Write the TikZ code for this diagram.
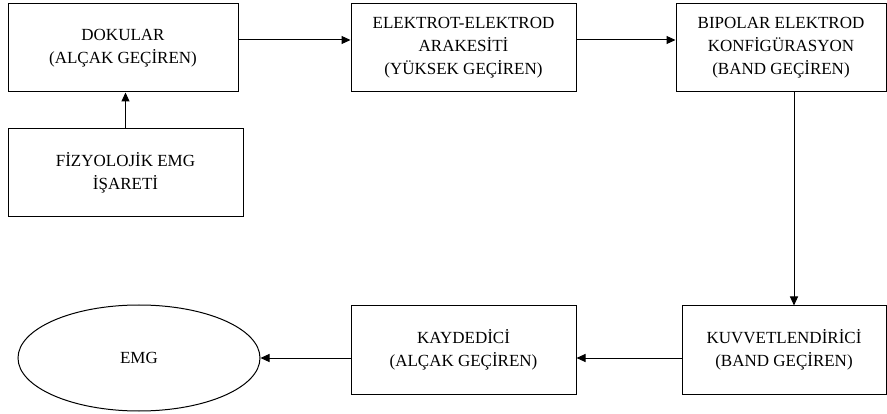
\documentclass[tikz,border=0pt]{standalone}
\usepackage{fontspec}
\setmainfont{Liberation Serif}
\usetikzlibrary{arrows.meta,positioning,shapes.geometric}

\begin{document}
\begin{tikzpicture}[
      x=1pt, y=1pt,
      block/.style={draw, line width=1pt, minimum height=88pt, align=center, inner sep=0pt, font=\fontsize{17}{23}\selectfont},
      arr/.style={-{Triangle[length=9pt, width=8pt]}, line width=1pt}
    ]
      \useasboundingbox (0,0) rectangle (887,-414);

      \node[block, minimum width=230pt] (dokular) at (123,-48) {
        DOKULAR\\
        (ALÇAK GEÇİREN)
      };

      \node[block, minimum width=235pt, below right=36pt and 0pt of dokular.south west] (fizyo) {
        FİZYOLOJİK EMG\\
        İŞARETİ
      };

      \node[block, minimum width=225pt, right=112pt of dokular] (elektrot) {
        ELEKTROT-ELEKTROD\\
        ARAKESİTİ\\
        (YÜKSEK GEÇİREN)
      };

      \node[block, minimum width=210pt, right=99pt of elektrot] (bipolar) {
        BIPOLAR ELEKTROD\\
        KONFİGÜRASYON\\
        (BAND GEÇİREN)
      };

      \node[block, minimum width=204pt, below left=213pt and 0pt of bipolar.south east] (kuvvet) {
        KUVVETLENDİRİCİ\\
        (BAND GEÇİREN)
      };

      \node[block, minimum width=225pt, left=105pt of kuvvet] (kaydedici) {
        KAYDEDİCİ\\
        (ALÇAK GEÇİREN)
      };

      \node[ellipse, draw, line width=1pt, minimum width=242pt, minimum height=106pt, inner sep=0pt,
            font=\fontsize{17}{23}\selectfont, left=90pt of kaydedici, yshift=-8pt] (emg) {EMG};

      \draw[arr] (fizyo.north) -- (fizyo.north |- dokular.south);
      \draw[arr] ([yshift=8pt]dokular.east) -- ([yshift=8pt]elektrot.west);
      \draw[arr] ([yshift=8pt]elektrot.east) -- ([yshift=8pt]bipolar.west);
      \draw[arr] ([xshift=13pt]bipolar.south) -- ([xshift=13pt]bipolar.south |- kuvvet.north);
      \draw[arr] ([yshift=-8pt]kuvvet.west) -- ([yshift=-8pt]kaydedici.east);
      \draw[arr] ([yshift=-8pt]kaydedici.west) -- (emg.east);
    \end{tikzpicture}
\end{document}
